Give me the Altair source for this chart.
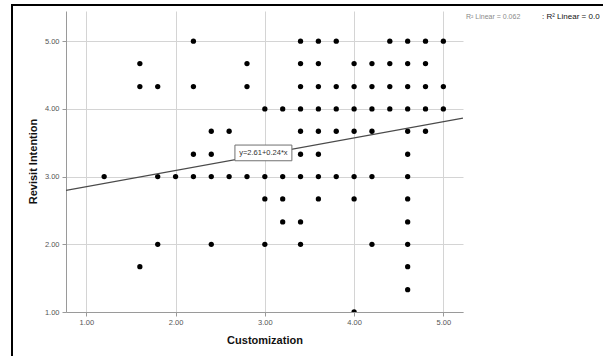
import altair as alt
import pandas as pd

# Scatter data (Customization, Revisit Intention)
customization = [
    2.2, 3.4, 3.6, 3.8, 4.4, 4.6, 4.8, 5.0,
    1.6, 2.8, 3.4, 3.6, 4.0, 4.2, 4.4, 4.6, 4.8,
    1.6, 1.8, 2.2, 2.8, 3.4, 3.6, 3.8, 4.0, 4.2, 4.4, 4.6, 4.8, 5.0,
    3.0, 3.2, 3.4, 3.6, 3.8, 4.0, 4.2, 4.4, 4.6, 4.8, 5.0,
    2.4, 2.6, 3.4, 3.6, 3.8, 4.0, 4.2, 4.6, 4.8,
    2.2, 2.4, 3.4, 3.6, 4.6,
    1.2, 1.8, 2.0, 2.2, 2.4, 2.6, 2.8, 3.0, 3.2, 3.4, 3.6, 3.8, 4.0, 4.2, 4.6,
    3.0, 3.2, 3.6, 4.0, 4.6,
    3.2, 3.4, 4.6,
    1.8, 2.4, 3.0, 3.4, 4.2, 4.6,
    1.6, 4.6,
    4.6,
    4.0,
]
revisit = (
    [5.00] * 8 + [4.67] * 9 + [4.33] * 13 + [4.00] * 11 + [3.67] * 9 +
    [3.33] * 5 + [3.00] * 15 + [2.67] * 5 + [2.33] * 3 + [2.00] * 6 +
    [1.67] * 2 + [1.33] * 1 + [1.00] * 1
)

x_ticks = [1, 2, 3, 4, 5]
y_ticks = [1, 2, 3, 4, 5]
x_domain = [0.7725, 5.22]
y_domain = [1.0, 5.446]

intercept = 2.61
slope = 0.24
fit_label = "y=2.61+0.24*x"
r2_label = "R² Linear = 0.062"
r2_label_bold = ": R² Linear = 0.0"

pts = pd.DataFrame({"Customization": customization, "Revisit Intention": revisit})
fit = pd.DataFrame({
    "Customization": x_domain,
    "Revisit Intention": [intercept + slope * v for v in x_domain],
})
box = pd.DataFrame({"x": [2.665], "x2": [3.303], "y": [3.234], "y2": [3.466],
                    "xc": [2.984], "yc": [3.35], "label": [fit_label]})

xs = alt.Scale(domain=x_domain, nice=False, zero=False)
ys = alt.Scale(domain=y_domain, nice=False, zero=False)

x_axis = alt.Axis(values=x_ticks, format=".2f", title="Customization",
                  titleY=28, titleBaseline="middle")
y_axis = alt.Axis(values=y_ticks, format=".2f", title="Revisit Intention",
                  titleX=-33, titleY=150, titleBaseline="middle", titleAngle=270)

points = alt.Chart(pts).mark_circle(size=28, color="black", opacity=1, clip=True).encode(
    x=alt.X("Customization:Q", scale=xs, axis=x_axis),
    y=alt.Y("Revisit Intention:Q", scale=ys, axis=y_axis),
)

line = alt.Chart(fit).mark_line(color="#4a4a4a", strokeWidth=1.2, clip=True).encode(
    x=alt.X("Customization:Q", scale=xs),
    y=alt.Y("Revisit Intention:Q", scale=ys),
)

label_box = alt.Chart(box).mark_rect(fill="white", stroke="#707070", strokeWidth=1).encode(
    x=alt.X("x:Q", scale=xs), x2="x2:Q",
    y=alt.Y("y:Q", scale=ys), y2="y2:Q",
)
label_text = alt.Chart(box).mark_text(fontSize=7.5, color="#333333", font="Liberation Sans").encode(
    x=alt.X("xc:Q", scale=xs), y=alt.Y("yc:Q", scale=ys), text="label:N",
)

legend1 = alt.Chart(pd.DataFrame({"t": [r2_label]})).mark_text(
    fontSize=7, color="#8a8a8a", align="left", baseline="middle", font="Liberation Sans"
).encode(x=alt.value(400), y=alt.value(6), text="t:N")
legend2 = alt.Chart(pd.DataFrame({"t": [r2_label_bold]})).mark_text(
    fontSize=8, color="#111111", align="left", baseline="middle", font="Liberation Sans",
    fontWeight=500
).encode(x=alt.value(476), y=alt.value(6), text="t:N")

frame = alt.Chart(pd.DataFrame({"a": [0]})).mark_rect(
    fill=None, stroke="black", strokeWidth=2
).encode(x=alt.value(-54), x2=alt.value(700), y=alt.value(-6), y2=alt.value(500))

chart = alt.layer(frame, points, line, label_box, label_text, legend1, legend2).properties(
    width=397, height=301,
    autosize=alt.AutoSizeParams(type="none"),
    padding={"left": 66, "top": 11, "right": 140, "bottom": 44},
    background="white",
).configure_view(stroke=None).configure_axis(
    grid=True, gridColor="#d4d4d4", gridWidth=1,
    domainColor="#9a9a9a", domainWidth=1,
    tickColor="#9a9a9a", tickSize=4,
    labelFont="Liberation Sans", labelFontSize=7.5, labelColor="#555555",
    titleFont="Liberation Sans", titleFontSize=11, titleFontWeight="bold", titleColor="#111111",
).configure_axisX(labelPadding=2).configure_axisY(labelPadding=3)

chart.save("out.html", embed_options={"renderer": "svg", "actions": False})
